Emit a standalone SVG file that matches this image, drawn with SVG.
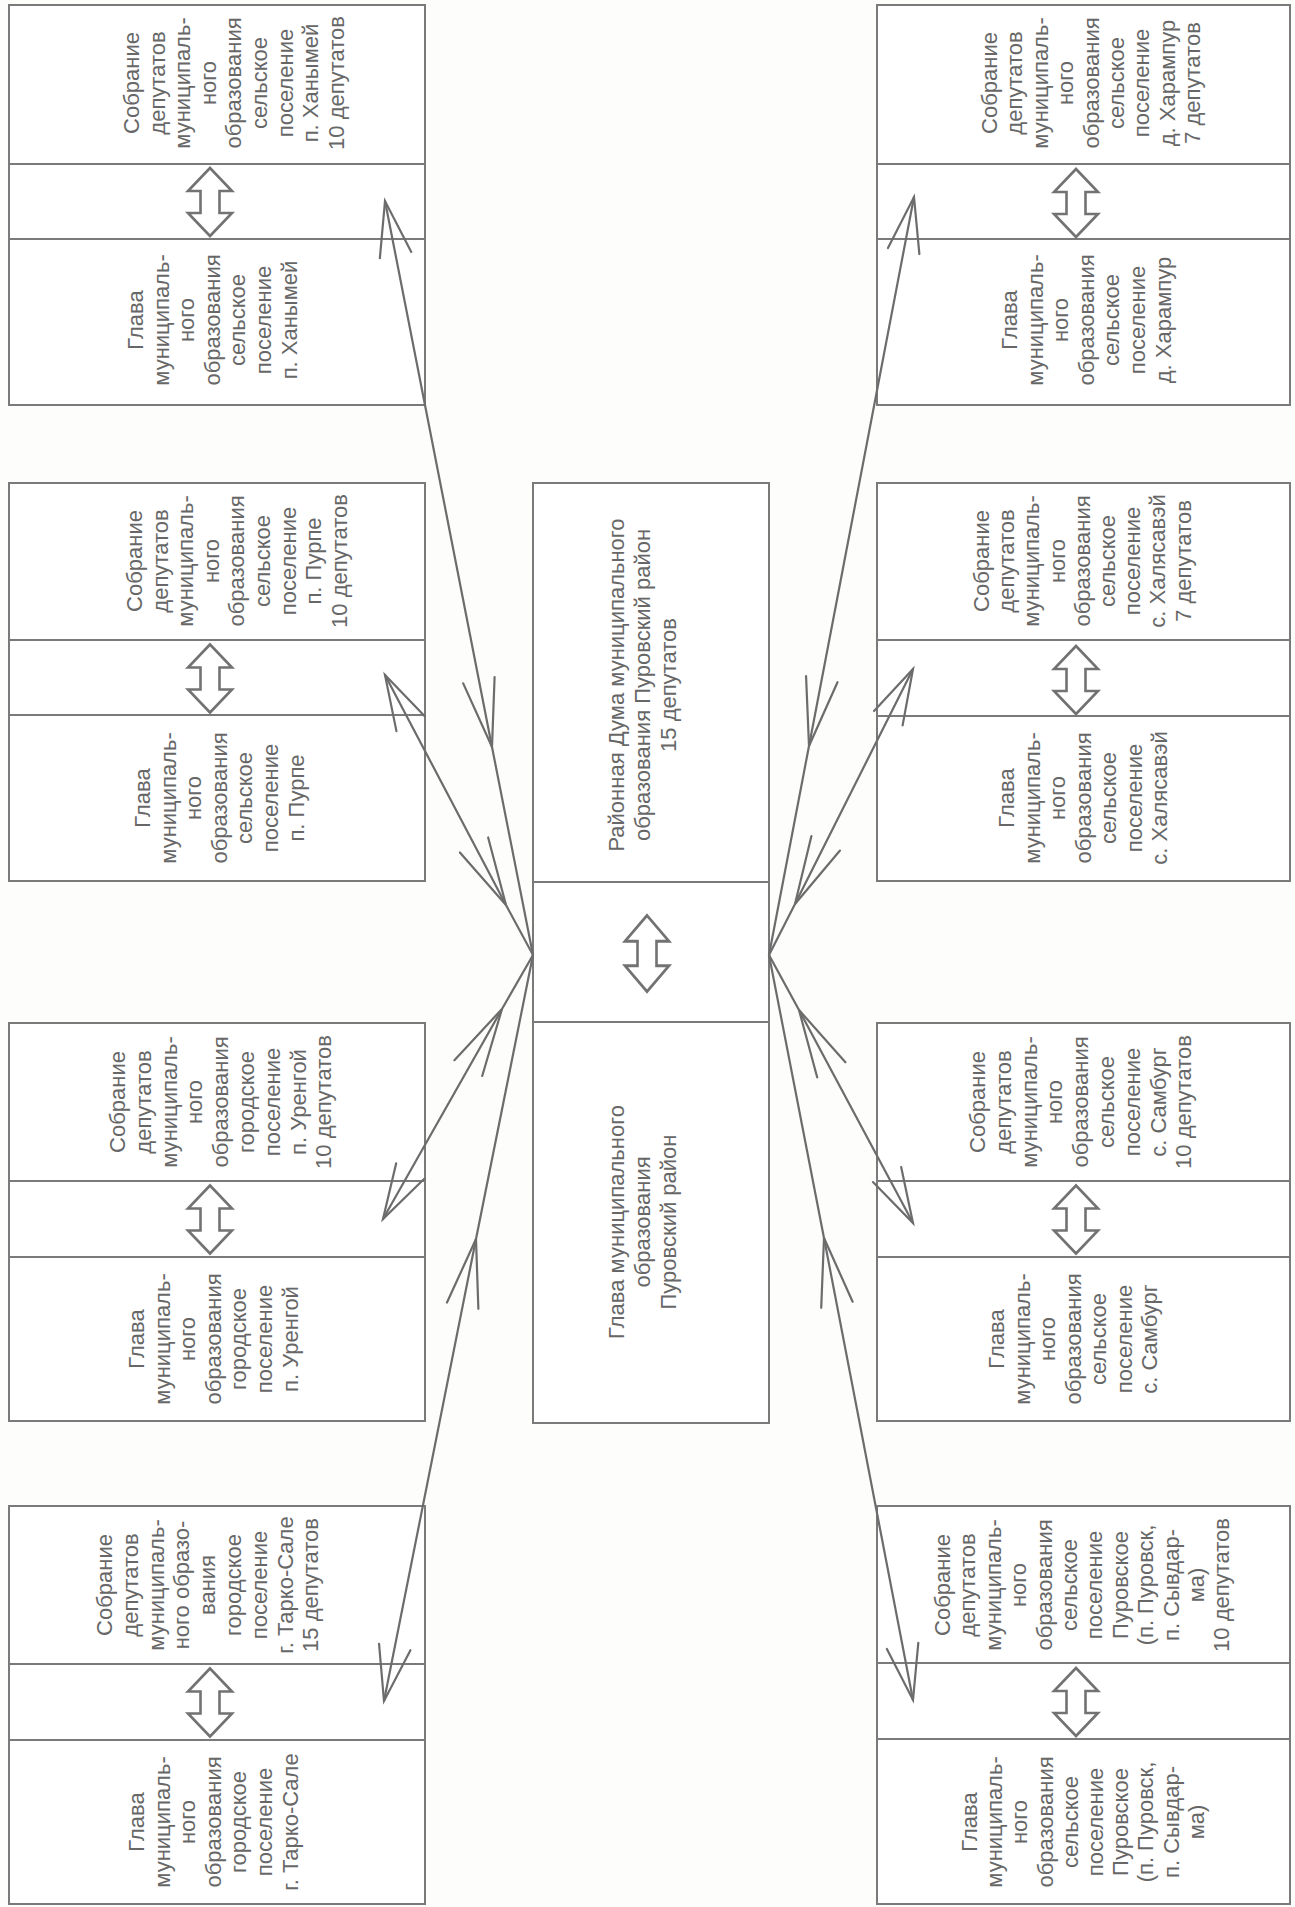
<svg xmlns="http://www.w3.org/2000/svg" width="1295" height="1907" viewBox="0 0 1295 1907">
<style>
.bx{fill:#ffffff;stroke:#7a7a7a;stroke-width:2}
.dv{stroke:#7a7a7a;stroke-width:2;fill:none}
.t{font-family:"Liberation Sans",Arial,sans-serif;font-size:22px;fill:#676767;text-anchor:middle}
.cn{fill:none;stroke:#6c6c6c;stroke-width:2.2;stroke-linecap:round}
.mk{fill:none;stroke:#6c6c6c;stroke-width:2.2;stroke-linecap:round;stroke-linejoin:miter}
.dbl{fill:#ffffff;stroke:#727272;stroke-width:2.6;stroke-linejoin:miter}
</style>
<defs>
<marker id="tipS" markerUnits="userSpaceOnUse" orient="auto-start-reverse" refX="0" refY="0" markerWidth="80" markerHeight="40" overflow="visible">
<path class="mk" d="M-55,-16 L0,0 L-55,16"/>
</marker>
<marker id="tipM" markerUnits="userSpaceOnUse" orient="auto" refX="0" refY="0" markerWidth="80" markerHeight="40" overflow="visible">
<path class="mk" d="M-68,-16 L0,0 L-68,16"/>
</marker>
<path id="darr" class="dbl" d="M0,-34 L22,-11 L9.5,-11 L9.5,11 L22,11 L0,34 L-22,11 L-9.5,11 L-9.5,-11 L-22,-11 Z"/>
</defs>
<rect x="0" y="0" width="1295" height="1907" fill="#fdfdfc"/>

<g id="center">
<rect class="bx" x="533" y="483" width="236" height="940"/>
<line class="dv" x1="533" y1="882" x2="769" y2="882"/>
<line class="dv" x1="533" y1="1022" x2="769" y2="1022"/>
<use href="#darr" transform="translate(647,953.5) scale(1,1.12)"/>
<text class="t" transform="translate(624,685) rotate(-90)"><tspan x="0" y="0">Районная Дума муниципального</tspan><tspan x="0" dy="26">образования Пуровский район</tspan><tspan x="0" dy="26">15 депутатов</tspan></text>
<text class="t" transform="translate(624,1222) rotate(-90)"><tspan x="0" y="0">Глава муниципального</tspan><tspan x="0" dy="26">образования</tspan><tspan x="0" dy="26">Пуровский район</tspan></text>
</g>

<g id="box-hanymey">
<rect class="bx" x="9" y="5" width="416" height="400"/>
<line class="dv" x1="9" y1="164" x2="425" y2="164"/>
<line class="dv" x1="9" y1="239" x2="425" y2="239"/>
<use href="#darr" transform="translate(210,202)"/>
<text class="t" transform="translate(139,83) rotate(-90)"><tspan x="0" y="0">Собрание</tspan><tspan x="0" dy="25.6">депутатов</tspan><tspan x="0" dy="25.6">муниципаль-</tspan><tspan x="0" dy="25.6">ного</tspan><tspan x="0" dy="25.6">образования</tspan><tspan x="0" dy="25.6">сельское</tspan><tspan x="0" dy="25.6">поселение</tspan><tspan x="0" dy="25.6">п. Ханымей</tspan><tspan x="0" dy="25.6">10 депутатов</tspan></text>
<text class="t" transform="translate(143,320) rotate(-90)"><tspan x="0" y="0">Глава</tspan><tspan x="0" dy="25.6">муниципаль-</tspan><tspan x="0" dy="25.6">ного</tspan><tspan x="0" dy="25.6">образования</tspan><tspan x="0" dy="25.6">сельское</tspan><tspan x="0" dy="25.6">поселение</tspan><tspan x="0" dy="25.6">п. Ханымей</tspan></text>
</g>

<g id="box-purpe">
<rect class="bx" x="9" y="483" width="416" height="398"/>
<line class="dv" x1="9" y1="640" x2="425" y2="640"/>
<line class="dv" x1="9" y1="715" x2="425" y2="715"/>
<use href="#darr" transform="translate(210,678.5)"/>
<text class="t" transform="translate(142,561) rotate(-90)"><tspan x="0" y="0">Собрание</tspan><tspan x="0" dy="25.6">депутатов</tspan><tspan x="0" dy="25.6">муниципаль-</tspan><tspan x="0" dy="25.6">ного</tspan><tspan x="0" dy="25.6">образования</tspan><tspan x="0" dy="25.6">сельское</tspan><tspan x="0" dy="25.6">поселение</tspan><tspan x="0" dy="25.6">п. Пурпе</tspan><tspan x="0" dy="25.6">10 депутатов</tspan></text>
<text class="t" transform="translate(150,798) rotate(-90)"><tspan x="0" y="0">Глава</tspan><tspan x="0" dy="25.6">муниципаль-</tspan><tspan x="0" dy="25.6">ного</tspan><tspan x="0" dy="25.6">образования</tspan><tspan x="0" dy="25.6">сельское</tspan><tspan x="0" dy="25.6">поселение</tspan><tspan x="0" dy="25.6">п. Пурпе</tspan></text>
</g>

<g id="box-urengoy">
<rect class="bx" x="9" y="1023" width="416" height="398"/>
<line class="dv" x1="9" y1="1181" x2="425" y2="1181"/>
<line class="dv" x1="9" y1="1257" x2="425" y2="1257"/>
<use href="#darr" transform="translate(210,1219.5)"/>
<text class="t" transform="translate(125,1102) rotate(-90)"><tspan x="0" y="0">Собрание</tspan><tspan x="0" dy="25.8">депутатов</tspan><tspan x="0" dy="25.8">муниципаль-</tspan><tspan x="0" dy="25.8">ного</tspan><tspan x="0" dy="25.8">образования</tspan><tspan x="0" dy="25.8">городское</tspan><tspan x="0" dy="25.8">поселение</tspan><tspan x="0" dy="25.8">п. Уренгой</tspan><tspan x="0" dy="25.8">10 депутатов</tspan></text>
<text class="t" transform="translate(144,1339) rotate(-90)"><tspan x="0" y="0">Глава</tspan><tspan x="0" dy="25.6">муниципаль-</tspan><tspan x="0" dy="25.6">ного</tspan><tspan x="0" dy="25.6">образования</tspan><tspan x="0" dy="25.6">городское</tspan><tspan x="0" dy="25.6">поселение</tspan><tspan x="0" dy="25.6">п. Уренгой</tspan></text>
</g>

<g id="box-tarko-sale">
<rect class="bx" x="9" y="1506" width="416" height="398"/>
<line class="dv" x1="9" y1="1664" x2="425" y2="1664"/>
<line class="dv" x1="9" y1="1740" x2="425" y2="1740"/>
<use href="#darr" transform="translate(210,1702.5)"/>
<text class="t" transform="translate(112,1585) rotate(-90)"><tspan x="0" y="0">Собрание</tspan><tspan x="0" dy="25.8">депутатов</tspan><tspan x="0" dy="25.8">муниципаль-</tspan><tspan x="0" dy="25.8">ного образо-</tspan><tspan x="0" dy="25.8">вания</tspan><tspan x="0" dy="25.8">городское</tspan><tspan x="0" dy="25.8">поселение</tspan><tspan x="0" dy="25.8">г. Тарко-Сале</tspan><tspan x="0" dy="25.8">15 депутатов</tspan></text>
<text class="t" transform="translate(144,1822) rotate(-90)"><tspan x="0" y="0">Глава</tspan><tspan x="0" dy="25.6">муниципаль-</tspan><tspan x="0" dy="25.6">ного</tspan><tspan x="0" dy="25.6">образования</tspan><tspan x="0" dy="25.6">городское</tspan><tspan x="0" dy="25.6">поселение</tspan><tspan x="0" dy="25.6">г. Тарко-Сале</tspan></text>
</g>

<g id="box-harampur">
<rect class="bx" x="877" y="5" width="413" height="400"/>
<line class="dv" x1="877" y1="164" x2="1290" y2="164"/>
<line class="dv" x1="877" y1="239" x2="1290" y2="239"/>
<use href="#darr" transform="translate(1076,203)"/>
<text class="t" transform="translate(997,83) rotate(-90)"><tspan x="0" y="0">Собрание</tspan><tspan x="0" dy="25.4">депутатов</tspan><tspan x="0" dy="25.4">муниципаль-</tspan><tspan x="0" dy="25.4">ного</tspan><tspan x="0" dy="25.4">образования</tspan><tspan x="0" dy="25.4">сельское</tspan><tspan x="0" dy="25.4">поселение</tspan><tspan x="0" dy="25.4">д. Харампур</tspan><tspan x="0" dy="25.4">7 депутатов</tspan></text>
<text class="t" transform="translate(1017,320) rotate(-90)"><tspan x="0" y="0">Глава</tspan><tspan x="0" dy="25.6">муниципаль-</tspan><tspan x="0" dy="25.6">ного</tspan><tspan x="0" dy="25.6">образования</tspan><tspan x="0" dy="25.6">сельское</tspan><tspan x="0" dy="25.6">поселение</tspan><tspan x="0" dy="25.6">д. Харампур</tspan></text>
</g>

<g id="box-halyasavey">
<rect class="bx" x="877" y="483" width="413" height="398"/>
<line class="dv" x1="877" y1="640" x2="1290" y2="640"/>
<line class="dv" x1="877" y1="716" x2="1290" y2="716"/>
<use href="#darr" transform="translate(1076,680)"/>
<text class="t" transform="translate(989,561) rotate(-90)"><tspan x="0" y="0">Собрание</tspan><tspan x="0" dy="25.2">депутатов</tspan><tspan x="0" dy="25.2">муниципаль-</tspan><tspan x="0" dy="25.2">ного</tspan><tspan x="0" dy="25.2">образования</tspan><tspan x="0" dy="25.2">сельское</tspan><tspan x="0" dy="25.2">поселение</tspan><tspan x="0" dy="25.2">с. Халясавэй</tspan><tspan x="0" dy="25.2">7 депутатов</tspan></text>
<text class="t" transform="translate(1014,798) rotate(-90)"><tspan x="0" y="0">Глава</tspan><tspan x="0" dy="25.5">муниципаль-</tspan><tspan x="0" dy="25.5">ного</tspan><tspan x="0" dy="25.5">образования</tspan><tspan x="0" dy="25.5">сельское</tspan><tspan x="0" dy="25.5">поселение</tspan><tspan x="0" dy="25.5">с. Халясавэй</tspan></text>
</g>

<g id="box-samburg">
<rect class="bx" x="877" y="1023" width="413" height="398"/>
<line class="dv" x1="877" y1="1181" x2="1290" y2="1181"/>
<line class="dv" x1="877" y1="1257" x2="1290" y2="1257"/>
<use href="#darr" transform="translate(1076,1219.5)"/>
<text class="t" transform="translate(985,1102) rotate(-90)"><tspan x="0" y="0">Собрание</tspan><tspan x="0" dy="25.8">депутатов</tspan><tspan x="0" dy="25.8">муниципаль-</tspan><tspan x="0" dy="25.8">ного</tspan><tspan x="0" dy="25.8">образования</tspan><tspan x="0" dy="25.8">сельское</tspan><tspan x="0" dy="25.8">поселение</tspan><tspan x="0" dy="25.8">с. Самбург</tspan><tspan x="0" dy="25.8">10 депутатов</tspan></text>
<text class="t" transform="translate(1004,1339) rotate(-90)"><tspan x="0" y="0">Глава</tspan><tspan x="0" dy="25.5">муниципаль-</tspan><tspan x="0" dy="25.5">ного</tspan><tspan x="0" dy="25.5">образования</tspan><tspan x="0" dy="25.5">сельское</tspan><tspan x="0" dy="25.5">поселение</tspan><tspan x="0" dy="25.5">с. Самбург</tspan></text>
</g>

<g id="box-purovskoe">
<rect class="bx" x="877" y="1506" width="413" height="398"/>
<line class="dv" x1="877" y1="1663" x2="1290" y2="1663"/>
<line class="dv" x1="877" y1="1739" x2="1290" y2="1739"/>
<use href="#darr" transform="translate(1076,1702)"/>
<text class="t" transform="translate(950,1585) rotate(-90)"><tspan x="0" y="0">Собрание</tspan><tspan x="0" dy="25.4">депутатов</tspan><tspan x="0" dy="25.4">муниципаль-</tspan><tspan x="0" dy="25.4">ного</tspan><tspan x="0" dy="25.4">образования</tspan><tspan x="0" dy="25.4">сельское</tspan><tspan x="0" dy="25.4">поселение</tspan><tspan x="0" dy="25.4">Пуровское</tspan><tspan x="0" dy="25.4">(п. Пуровск,</tspan><tspan x="0" dy="25.4">п. Сывдар-</tspan><tspan x="0" dy="25.4">ма)</tspan><tspan x="0" dy="25.4">10 депутатов</tspan></text>
<text class="t" transform="translate(977,1822) rotate(-90)"><tspan x="0" y="0">Глава</tspan><tspan x="0" dy="25.2">муниципаль-</tspan><tspan x="0" dy="25.2">ного</tspan><tspan x="0" dy="25.2">образования</tspan><tspan x="0" dy="25.2">сельское</tspan><tspan x="0" dy="25.2">поселение</tspan><tspan x="0" dy="25.2">Пуровское</tspan><tspan x="0" dy="25.2">(п. Пуровск,</tspan><tspan x="0" dy="25.2">п. Сывдар-</tspan><tspan x="0" dy="25.2">ма)</tspan></text>
</g>

<g id="connectors">
<path class="cn" marker-start="url(#tipS)" marker-mid="url(#tipM)" d="M385,201 L492,747 L533,955"/>
<path class="cn" marker-start="url(#tipS)" marker-mid="url(#tipM)" d="M385,675 L506,905 L533,955"/>
<path class="cn" marker-start="url(#tipS)" marker-mid="url(#tipM)" d="M383,1219 L502,1009 L533,955"/>
<path class="cn" marker-start="url(#tipS)" marker-mid="url(#tipM)" d="M384,1701 L476,1239 L533,955"/>
<path class="cn" marker-start="url(#tipS)" marker-mid="url(#tipM)" d="M914,197 L809,746 L769,955"/>
<path class="cn" marker-start="url(#tipS)" marker-mid="url(#tipM)" d="M913,669 L795,904 L769,955"/>
<path class="cn" marker-start="url(#tipS)" marker-mid="url(#tipM)" d="M913,1223 L799,1010 L769,955"/>
<path class="cn" marker-start="url(#tipS)" marker-mid="url(#tipM)" d="M913,1700 L824,1238 L769,955"/>
</g>
</svg>
